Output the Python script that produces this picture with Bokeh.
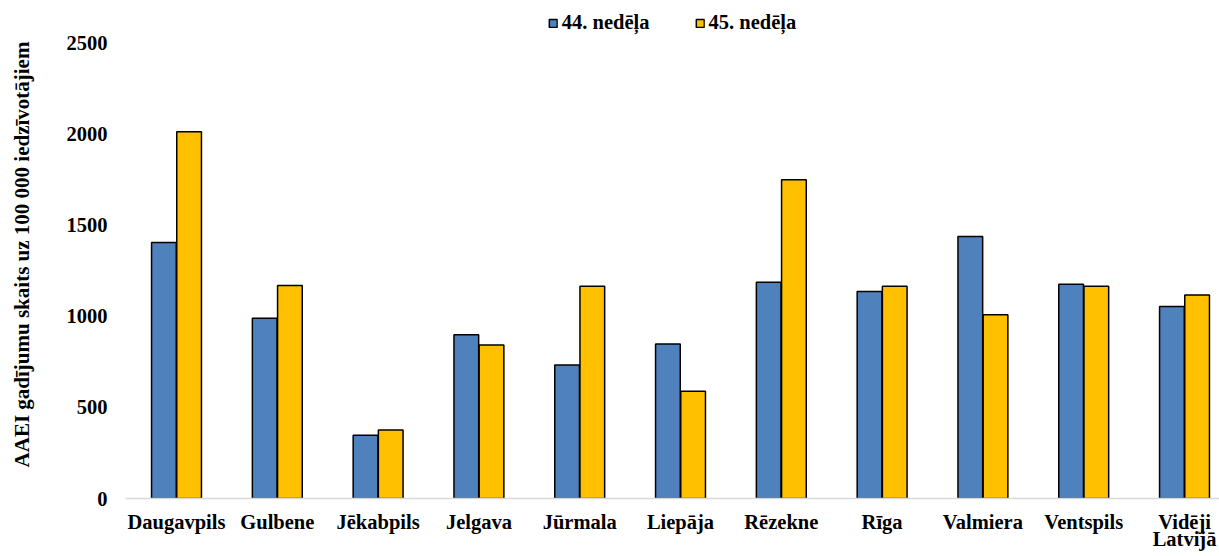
import numpy as np
from bokeh.plotting import figure
from bokeh.models import Range1d, FixedTicker, ColumnDataSource, Legend, LegendItem
from bokeh.embed import file_html
from bokeh.resources import INLINE

categories = ["Daugavpils", "Gulbene", "Jēkabpils", "Jelgava", "Jūrmala", "Liepāja",
              "Rēzekne", "Rīga", "Valmiera", "Ventspils", "Vidēji\nLatvijā"]
week44 = [1404, 988, 347, 898, 732, 847, 1186, 1135, 1436, 1174, 1053]
week45 = [2011, 1168, 375, 842, 1164, 588, 1748, 1164, 1008, 1164, 1115]
y_ticks = [0, 500, 1000, 1500, 2000, 2500]
series_names = ["44. nedēļa", "45. nedēļa"]
colors = ["#4F81BD", "#FFC000"]

FONT = "Liberation Serif"
FS = "20.5px"

idx = np.arange(len(categories))

# frame extends above the 2500 tick so that the legend sits inside it
p = figure(frame_width=1094, frame_height=488, output_backend="svg", toolbar_location=None,
           x_range=Range1d(-0.506, 10.347), y_range=Range1d(0, 2500 * 488 / 456),
           min_border_left=125, min_border_top=10, min_border_bottom=10, min_border_right=0)
p.outline_line_color = None
p.grid.visible = False

src = ColumnDataSource(dict(x44=idx - 0.125, x45=idx + 0.125, w44=week44, w45=week45))
r1 = p.vbar(x="x44", top="w44", width=0.245, source=src, fill_color=colors[0],
            line_color="#000000", line_width=1.5)
r2 = p.vbar(x="x45", top="w45", width=0.245, source=src, fill_color=colors[1],
            line_color="#000000", line_width=1.5)

# x axis
xa = p.xaxis[0]
xa.ticker = FixedTicker(ticks=list(idx))
xa.major_label_overrides = {int(i): c for i, c in zip(idx, categories)}
xa.axis_line_color = "#D9D9D9"
xa.axis_line_width = 1.5
xa.major_tick_line_color = None
xa.minor_tick_line_color = None
xa.major_label_standoff = 6
xa.major_label_text_font = FONT
xa.major_label_text_font_style = "bold"
xa.major_label_text_font_size = FS
xa.major_label_text_line_height = 0.8
xa.major_label_text_color = "#000000"

# y axis
ya = p.yaxis[0]
ya.ticker = FixedTicker(ticks=y_ticks)
ya.axis_line_color = None
ya.major_tick_line_color = None
ya.minor_tick_line_color = None
ya.major_label_standoff = 12
ya.major_label_text_font = FONT
ya.major_label_text_font_style = "bold"
ya.major_label_text_font_size = FS
ya.major_label_text_color = "#000000"
ya.axis_label = "AAEI gadījumu skaits uz 100 000 iedzīvotājiem"
ya.axis_label_text_font = FONT
ya.axis_label_text_font_style = "bold"
ya.axis_label_text_font_size = "21px"
ya.axis_label_text_color = "#000000"
ya.axis_label_standoff = 30

legend = Legend(items=[LegendItem(label=series_names[0], renderers=[r1]),
                       LegendItem(label=series_names[1], renderers=[r2])],
                orientation="horizontal", location="top_center",
                glyph_width=10, glyph_height=10, label_standoff=4, spacing=45,
                padding=0, margin=1, border_line_color=None, background_fill_alpha=0,
                label_text_font=FONT, label_text_font_style="bold",
                label_text_font_size=FS, label_text_color="#000000", label_height=20)
p.add_layout(legend, "center")

open("out.html", "w").write(file_html(p, INLINE))
